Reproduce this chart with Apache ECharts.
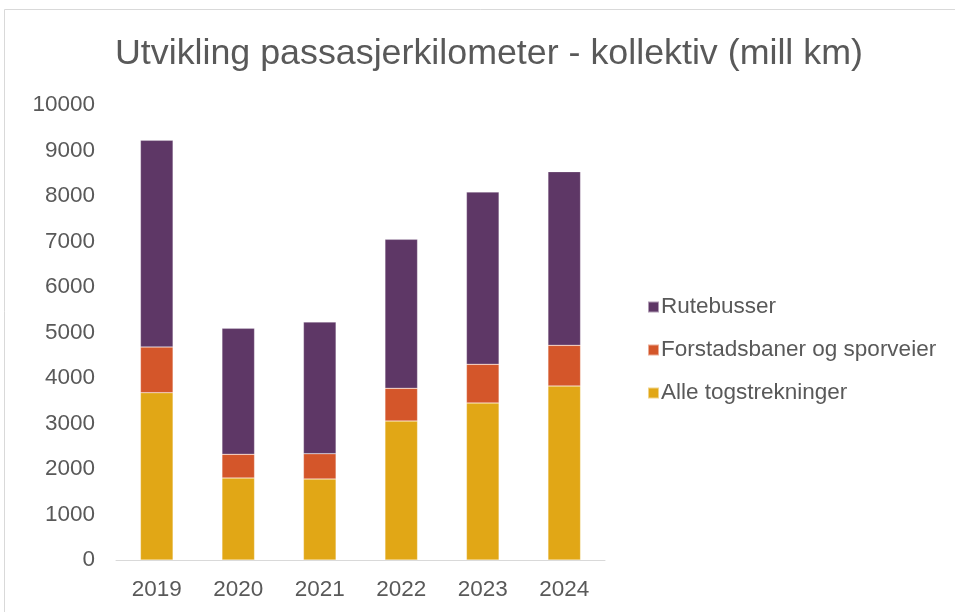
<!DOCTYPE html>
<html>
<head>
<meta charset="utf-8">
<script src="https://cdn.jsdelivr.net/npm/echarts@6/dist/echarts.min.js"></script>
<style>
  html, body { margin: 0; padding: 0; background: #fff; }
  #chart { width: 955px; height: 612px; }
</style>
</head>
<body>
<div id="chart"></div>
<script>
// år
const years = ['2019', '2020', '2021', '2022', '2023', '2024'];
// mill km per kategori
const togstrekninger = [3677, 1802, 1780, 3055, 3451, 3824];
const forstadsbaner = [1004, 521, 556, 718, 850, 894];
const rutebusser = [4543, 2769, 2895, 3275, 3787, 3817];
const seriesNames = ['Alle togstrekninger', 'Forstadsbaner og sporveier', 'Rutebusser'];

const font = '"Liberation Sans", Arial, sans-serif';
const textColor = '#595959';

const chart = echarts.init(document.getElementById('chart'));

const makeSeries = (name, data) => ({
  name: name,
  type: 'bar',
  stack: 'total',
  barWidth: '40%',
  data: data,
  itemStyle: { borderColor: 'rgba(255,255,255,0.5)', borderWidth: 0.5 },
});

chart.setOption({
  animation: false,
  color: ['#E1A716', '#D4562A', '#5E3766'],
  graphic: [{
    type: 'rect',
    shape: { x: 4.5, y: 9.5, width: 1000, height: 700 },
    style: { fill: 'none', stroke: '#d9d9d9', lineWidth: 1 },
    silent: true,
  }],
  title: {
    text: 'Utvikling passasjerkilometer - kollektiv (mill km)',
    left: 110,
    top: 31,
    textStyle: { fontFamily: font, fontSize: 35.8, fontWeight: 'normal', color: textColor },
  },
  legend: {
    orient: 'vertical',
    left: 642,
    top: 290,
    itemGap: 19,
    itemWidth: 11,
    itemHeight: 11,
    icon: 'rect',
    data: ['Rutebusser', 'Forstadsbaner og sporveier', 'Alle togstrekninger'],
    textStyle: { fontFamily: font, fontSize: 22.5, lineHeight: 24, color: textColor, padding: [0, 0, 0, -3] },
  },
  grid: { left: 116, right: 350, top: 105, bottom: 52 },
  xAxis: {
    type: 'category',
    data: years,
    axisTick: { show: false },
    axisLine: { lineStyle: { color: '#d9d9d9', width: 1 } },
    axisLabel: { fontFamily: font, fontSize: 22.5, color: textColor, margin: 18 },
  },
  yAxis: {
    type: 'value',
    min: 0,
    max: 10000,
    interval: 1000,
    splitLine: { show: false },
    axisLine: { show: false },
    axisTick: { show: false },
    axisLabel: { fontFamily: font, fontSize: 22.5, color: textColor, margin: 21, formatter: (v) => String(v) },
  },
  series: [
    makeSeries(seriesNames[0], togstrekninger),
    makeSeries(seriesNames[1], forstadsbaner),
    makeSeries(seriesNames[2], rutebusser),
  ],
});
</script>
</body>
</html>
